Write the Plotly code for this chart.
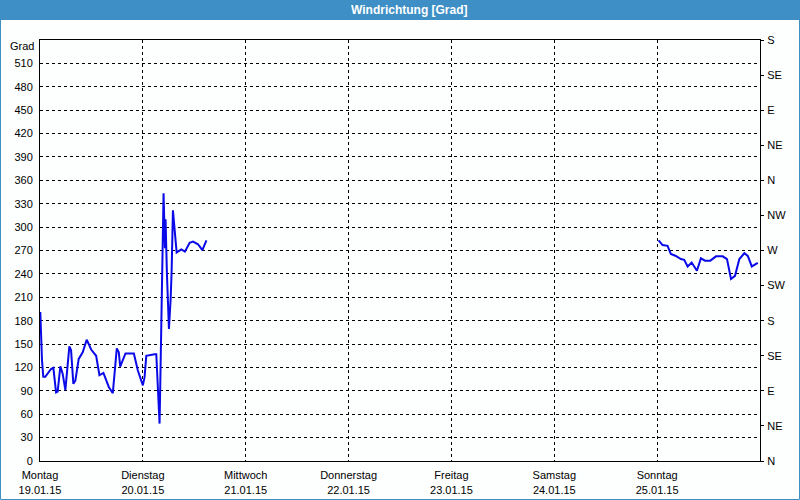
import plotly.graph_objects as go

# ---- data ----
times_mon_tue = [
    "2015-01-19 00:04", "2015-01-19 00:18", "2015-01-19 00:28", "2015-01-19 00:46",
    "2015-01-19 01:14", "2015-01-19 02:34", "2015-01-19 03:07", "2015-01-19 03:45",
    "2015-01-19 04:07", "2015-01-19 04:45", "2015-01-19 05:17", "2015-01-19 05:55",
    "2015-01-19 06:27", "2015-01-19 06:51", "2015-01-19 07:15", "2015-01-19 07:47",
    "2015-01-19 08:15", "2015-01-19 09:02", "2015-01-19 09:58", "2015-01-19 10:54",
    "2015-01-19 11:32", "2015-01-19 11:56", "2015-01-19 13:06", "2015-01-19 13:52",
    "2015-01-19 14:48", "2015-01-19 16:03", "2015-01-19 16:59", "2015-01-19 17:37",
    "2015-01-19 17:55", "2015-01-19 18:23", "2015-01-19 18:43", "2015-01-19 19:57",
    "2015-01-19 21:54", "2015-01-19 22:50", "2015-01-20 00:00", "2015-01-20 00:24",
    "2015-01-20 00:48", "2015-01-20 02:44", "2015-01-20 03:08", "2015-01-20 03:31",
    "2015-01-20 03:44", "2015-01-20 03:54", "2015-01-20 04:08", "2015-01-20 04:22",
    "2015-01-20 04:36", "2015-01-20 04:50", "2015-01-20 05:09", "2015-01-20 05:18",
    "2015-01-20 05:37", "2015-01-20 05:51", "2015-01-20 06:05", "2015-01-20 06:29",
    "2015-01-20 06:43", "2015-01-20 07:01", "2015-01-20 07:25", "2015-01-20 07:39",
    "2015-01-20 07:53", "2015-01-20 08:59", "2015-01-20 09:49", "2015-01-20 10:55",
    "2015-01-20 11:42", "2015-01-20 12:52", "2015-01-20 13:53", "2015-01-20 14:50",
]
dir_mon_tue = [
    191, 150, 129, 108, 108, 118, 119.5, 88, 89, 121.5, 112, 91, 120, 147, 142, 99,
    103, 131, 139.5, 155.5, 148, 143, 135, 110, 113, 95, 87, 120, 144.5, 139.5, 121,
    138, 138, 116, 97, 107.5, 135, 137, 137, 92.5, 71, 48, 120, 195, 269.5, 343.5,
    273, 310, 240, 205.5, 169.5, 208, 244, 321.5, 295, 282.5, 267.5, 271.5, 268.5,
    280, 281.5, 278, 270.5, 283,
]
times_sun = [
    "2015-01-25 00:20", "2015-01-25 01:16", "2015-01-25 02:26", "2015-01-25 03:12",
    "2015-01-25 04:22", "2015-01-25 05:32", "2015-01-25 06:19", "2015-01-25 07:07",
    "2015-01-25 08:03", "2015-01-25 09:17", "2015-01-25 10:13", "2015-01-25 11:10",
    "2015-01-25 12:24", "2015-01-25 13:44", "2015-01-25 15:18", "2015-01-25 16:18",
    "2015-01-25 17:14", "2015-01-25 18:10", "2015-01-25 19:11", "2015-01-25 20:21",
    "2015-01-25 21:09", "2015-01-25 22:05", "2015-01-25 23:29",
]
dir_sun = [
    283, 277, 276, 265.5, 263, 259, 258, 249.5, 254.5, 244, 260, 257, 257, 262.5,
    262.5, 259, 233.5, 237.5, 259, 266.5, 263, 249.5, 254,
]

day_ticks = ["2015-01-19", "2015-01-20", "2015-01-21", "2015-01-22",
             "2015-01-23", "2015-01-24", "2015-01-25"]
day_labels = ["Montag<br>19.01.15", "Dienstag<br>20.01.15", "Mittwoch<br>21.01.15",
              "Donnerstag<br>22.01.15", "Freitag<br>23.01.15", "Samstag<br>24.01.15",
              "Sonntag<br>25.01.15"]
deg_ticks = list(range(0, 540, 30))
compass_vals = list(range(0, 541, 45))
compass_labels = ["N", "NE", "E", "SE", "S", "SW", "W", "NW", "N", "NE", "E", "SE", "S"]

# ---- figure ----
W, H = 800, 500
ML, MR, MT, MB = 40, 40, 40, 39
PW, PH = W - ML - MR, H - MT - MB

def px_x(px):
    return (px - ML) / PW

def px_y(py):
    return (H - MB - py) / PH

font = "Liberation Sans, Arial, sans-serif"
bg = "#fdfefe"
blue_frame = "#3d8fc5"

x_all = times_mon_tue + [None] + times_sun
y_all = dir_mon_tue + [None] + dir_sun

fig = go.Figure()
fig.add_trace(go.Scatter(
    x=x_all, y=y_all, mode="lines",
    line=dict(color="#0a0ae8", width=2),
    connectgaps=False, showlegend=False, hoverinfo="skip",
))
# invisible trace to activate right axis
fig.add_trace(go.Scatter(
    x=[day_ticks[0]], y=[0], yaxis="y2", mode="markers",
    marker=dict(opacity=0), showlegend=False, hoverinfo="skip",
))

fig.update_layout(
    width=W, height=H,
    margin=dict(l=ML, r=MR, t=MT, b=MB, pad=0, autoexpand=False),
    paper_bgcolor=bg, plot_bgcolor=bg,
    font=dict(family=font, size=11, color="#000000"),
    xaxis=dict(
        type="date", range=["2015-01-19", "2015-01-26"],
        tickmode="array", tickvals=day_ticks, ticktext=day_labels,
        showgrid=True, gridcolor="#000000", gridwidth=1, griddash="3px,3px",
        showline=True, linecolor="#000000", linewidth=1, mirror=True,
        ticks="", zeroline=False, tickangle=0, automargin=False,
        ticklabelstandoff=4,
    ),
    yaxis=dict(
        range=[0, 540], tickmode="array", tickvals=deg_ticks,
        showgrid=True, gridcolor="#000000", gridwidth=1, griddash="3px,3px",
        showline=True, linecolor="#000000", linewidth=1, mirror=True,
        ticks="", zeroline=False, ticklabelstandoff=4, automargin=False,
    ),
    yaxis2=dict(
        range=[0, 540], overlaying="y", side="right",
        tickmode="array", tickvals=compass_vals, ticktext=compass_labels,
        showgrid=False, showline=True, linecolor="#000000", linewidth=1,
        ticks="outside", ticklen=3, tickcolor="#000000", zeroline=False,
        ticklabelstandoff=1, automargin=False,
    ),
    shapes=[
        dict(type="rect", xref="paper", yref="paper",
             x0=px_x(0), x1=px_x(W), y0=px_y(20), y1=px_y(0),
             fillcolor=blue_frame, line=dict(width=0), layer="above"),
        dict(type="rect", xref="paper", yref="paper",
             x0=px_x(0.5), x1=px_x(W - 0.5), y0=px_y(H - 0.5), y1=px_y(0.5),
             fillcolor="rgba(0,0,0,0)", line=dict(color=blue_frame, width=1),
             layer="above"),
    ],
    annotations=[
        dict(text="<b>Windrichtung [Grad]</b>", xref="paper", yref="paper",
             x=px_x(410), y=px_y(10), xanchor="center", yanchor="middle",
             showarrow=False, font=dict(family=font, size=12, color="#ffffff")),
        dict(text="Grad", xref="paper", yref="paper",
             x=px_x(36), y=px_y(46), xanchor="right", yanchor="middle",
             showarrow=False, font=dict(family=font, size=11, color="#000000")),
    ],
)

fig.write_html("out.html")
